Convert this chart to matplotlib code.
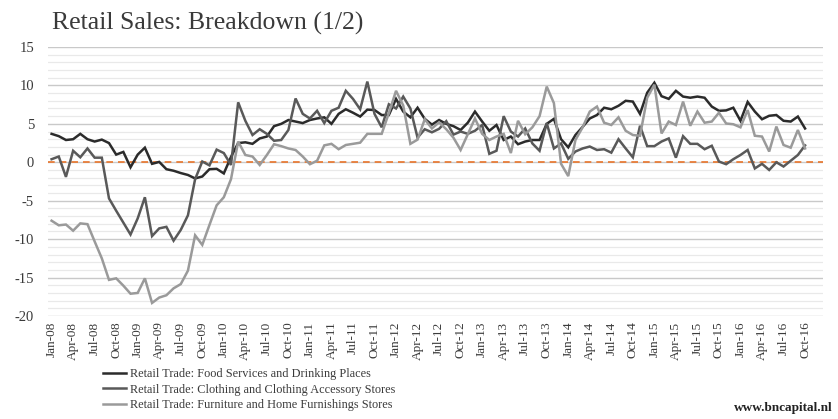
import matplotlib
matplotlib.use("Agg")
import matplotlib.pyplot as plt
from matplotlib.ticker import MultipleLocator, FixedLocator
import numpy as np

plt.rcParams["axes.unicode_minus"] = False

months = ["Jan", "Feb", "Mar", "Apr", "May", "Jun", "Jul", "Aug", "Sep", "Oct", "Nov", "Dec"]
categories = [f"{m}-{y:02d}" for y in range(8, 17) for m in months]  # Jan-08 .. Dec-16

food = [3.7, 3.4, 2.9, 3.0, 3.7, 3.0, 2.7, 2.95, 2.5, 1.0, 1.35, -0.65, 1.0, 1.9, -0.2, 0.05,
        -0.9, -1.1, -1.4, -1.65, -2.1, -1.85, -0.9, -0.85, -1.45, 0.7, 2.5, 2.6, 2.4, 3.1, 3.35,
        4.7, 5.0, 5.5, 5.3, 5.1, 5.5, 5.7, 5.85, 5.0, 6.3, 6.9, 6.45, 5.95, 6.85, 6.8, 6.15, 6.15,
        8.25, 6.6, 5.85, 7.1, 5.65, 4.9, 5.5, 5.0, 4.7, 4.2, 5.15, 6.6, 5.3, 4.1, 4.85, 2.9, 3.35,
        2.35, 2.7, 2.9, 2.9, 5.0, 5.65, 3.0, 1.95, 3.55, 4.6, 5.7, 6.15, 7.1, 6.9, 7.35, 8.0, 7.9,
        6.3, 9.05, 10.35, 8.6, 8.25, 9.3, 8.55, 8.4, 8.55, 8.4, 7.25, 6.7, 6.75, 7.1, 5.4, 7.85,
        6.6, 5.6, 6.05, 6.15, 5.4, 5.3, 5.95, 4.4]

clothing = [0.4, 0.75, -1.9, 1.5, 0.65, 1.8, 0.6, 0.6, -4.7, -6.3, -7.85, -9.4, -7.3, -4.55,
            -9.6, -8.6, -8.4, -10.2, -8.8, -6.9, -2.2, 0.1, -0.4, 1.65, 1.2, -0.35, 7.8, 5.4, 3.55,
            4.3, 3.7, 2.8, 2.9, 4.2, 8.3, 6.3, 5.7, 6.7, 5.1, 6.7, 7.1, 9.3, 8.25, 6.9, 10.5, 6.3,
            4.55, 7.55, 7.0, 8.55, 7.0, 3.2, 4.3, 3.9, 4.35, 5.35, 3.6, 4.0, 3.7, 4.1, 4.85, 1.1,
            1.5, 6.0, 4.0, 3.35, 4.4, 2.45, 1.5, 5.1, 1.8, 2.45, 0.45, 1.4, 1.8, 2.05, 1.6, 1.7,
            1.25, 3.0, 1.8, 0.65, 4.75, 2.1, 2.1, 2.7, 3.1, 0.6, 3.4, 2.4, 2.4, 1.7, 2.15, 0.1,
            -0.25, 0.4, 0.95, 1.6, -0.8, -0.2, -1.0, 0.0, -0.55, 0.2, 0.95, 2.2]

furniture = [-7.6, -8.2, -8.1, -8.9, -7.95, -8.05, -10.3, -12.5, -15.3, -15.1, -16.05, -17.1,
             -17.0, -15.1, -18.3, -17.6, -17.3, -16.4, -15.85, -14.1, -9.5, -10.75, -8.15, -5.6,
             -4.55, -2.2, 2.7, 0.95, 0.75, -0.35, 0.95, 2.35, 2.1, 1.8, 1.6, 0.75, -0.25, 0.2,
             2.2, 2.4, 1.7, 2.25, 2.4, 2.55, 3.7, 3.7, 3.7, 6.4, 9.3, 7.4, 2.4, 2.95, 5.6, 4.4,
             5.2, 4.3, 3.2, 1.6, 3.65, 5.7, 3.7, 2.9, 3.35, 3.7, 1.2, 5.4, 3.65, 4.55, 6.0, 9.85,
             7.7, -0.2, -1.8, 2.9, 4.55, 6.6, 7.25, 5.15, 4.85, 5.85, 4.1, 3.55, 3.45, 8.4, 10.1,
             3.75, 5.3, 4.85, 7.9, 4.75, 6.6, 5.15, 5.3, 6.45, 5.05, 4.95, 4.55, 6.8, 3.45, 3.35,
             1.4, 4.65, 2.25, 1.9, 4.2, 1.8]

series_names = ["Retail Trade: Food Services and Drinking Places",
                "Retail Trade: Clothing and Clothing Accessory Stores",
                "Retail Trade: Furniture and Home Furnishings Stores"]
series_colors = ["#2b2b2b", "#595959", "#9a9a9a"]

SERIF = ["Liberation Serif", "DejaVu Serif"]
TXT = "#3a3a3a"

fig = plt.figure(figsize=(8.38, 4.19), dpi=100)
ax = fig.add_axes([48 / 838, 1 - 316 / 419, (823 - 48) / 838, (316 - 47) / 419])

x = np.arange(len(food))
for vals, name, col in zip([food, clothing, furniture], series_names, series_colors):
    ax.plot(x, vals, color=col, lw=1.8, label=name, solid_joinstyle="miter", zorder=3)

ax.axhline(0, color="#e8742a", lw=1.2, ls=(0, (4, 3)), zorder=2)

ax.set_xlim(-0.5, len(categories) - 0.5)
ax.set_ylim(-20, 15)
ax.yaxis.set_major_locator(MultipleLocator(5))
ax.yaxis.set_minor_locator(MultipleLocator(1))
ax.grid(which="major", axis="y", color="#c9c9c9", lw=1.0, zorder=0)
ax.grid(which="minor", axis="y", color="#e9e9e9", lw=0.9, zorder=0)
ax.set_axisbelow(True)

tick_pos = list(range(0, len(categories), 3))
ax.xaxis.set_major_locator(FixedLocator(tick_pos))
ax.set_xticklabels([categories[i] for i in tick_pos], rotation=90, fontfamily=SERIF,
                   fontsize=9.5, color=TXT)
for lab in ax.get_yticklabels():
    lab.set_fontfamily(SERIF)
ax.tick_params(axis="y", labelsize=10.5, labelcolor=TXT, length=0, pad=10)
ax.tick_params(axis="x", length=0, pad=4)
ax.tick_params(which="minor", length=0)
for s in ax.spines.values():
    s.set_visible(False)

fig.text(52 / 838, 1 - 23 / 419, "Retail Sales: Breakdown (1/2)", fontfamily=SERIF,
         fontsize=18.5, color=TXT, va="center", ha="left")

leg = fig.legend(loc="upper left", bbox_to_anchor=(103 / 838, 1 - 368 / 419), frameon=False,
                 prop={"family": SERIF, "size": 8.8}, handlelength=1.9, handletextpad=0.3,
                 labelspacing=0.3, borderpad=0, borderaxespad=0)
for t in leg.get_texts():
    t.set_color(TXT)

fig.text(833 / 838, 1 - 408 / 419, "www.bncapital.nl", fontfamily=SERIF, fontsize=9.5,
         fontweight="bold", color="#222222", ha="right", va="center")

fig.savefig("out.png", dpi=100)
